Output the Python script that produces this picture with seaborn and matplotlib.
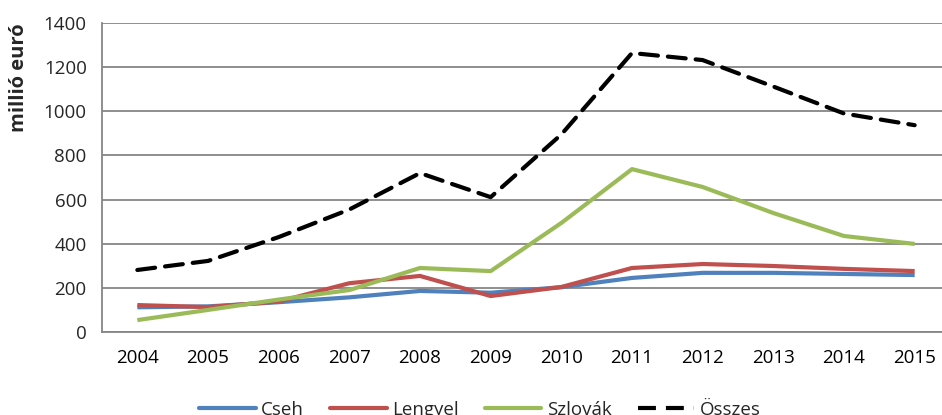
import matplotlib
matplotlib.use('Agg')
import pandas as pd
import matplotlib.pyplot as plt
import seaborn as sns
from matplotlib.lines import Line2D

# Adatok (millió euró)
years = ['2004', '2005', '2006', '2007', '2008', '2009',
         '2010', '2011', '2012', '2013', '2014', '2015']
cseh = [112, 116, 135, 157, 186, 178, 203, 245, 268, 268, 263, 258]
lengyel = [122, 113, 138, 221, 254, 163, 204, 290, 308, 299, 286, 276]
szlovak = [54, 100, 147, 190, 290, 276, 494, 738, 657, 539, 435, 399]
osszes = [281, 322, 430, 555, 720, 611, 895, 1264, 1232, 1112, 990, 937]

series = ['Cseh', 'Lengyel', 'Szlovák', 'Összes']
colors = ['#4F81BD', '#C0504D', '#9BBB59', '#000000']

df = pd.DataFrame({'ev': years * 4,
                   'ertek': cseh + lengyel + szlovak + osszes,
                   'orszag': sum([[s] * len(years) for s in series], [])})
df['pos'] = df['ev'].map({y: i for i, y in enumerate(years)})

sns.set_style('white')
plt.rcParams['font.family'] = ['Open Sans', 'DejaVu Sans']

fig = plt.figure(figsize=(9.42, 4.15), dpi=100)
ax = fig.add_axes([102 / 942, 83 / 415, 848 / 942, 309 / 415])

sns.lineplot(data=df, x='pos', y='ertek', hue='orszag', style='orszag',
             palette=dict(zip(series, colors)),
             dashes={'Cseh': '', 'Lengyel': '', 'Szlovák': '', 'Összes': (4.3, 2.4)},
             linewidth=3, legend=False, ax=ax)
for ln in ax.lines:
    ln.set_solid_capstyle('butt')
    ln.set_dash_capstyle('round')

ax.set_xlim(-0.5, len(years) - 0.5)
ax.set_ylim(0, 1400)
ax.set_yticks(range(0, 1401, 200))
ax.set_xticks(range(len(years)))
ax.set_xticklabels(years)
ax.set_xticks([i - 0.5 for i in range(len(years) + 1)], minor=True)
ax.tick_params(axis='x', which='major', length=0, pad=12, labelsize=13.5, colors='#000000')
ax.tick_params(axis='x', which='minor', length=5, width=1.2, color='#868686', direction='out')
ax.tick_params(axis='y', length=5, width=1.2, color='#868686', direction='out',
               pad=6, labelsize=13.5)
ax.grid(axis='y', color='#868686', linewidth=1.3)
ax.set_axisbelow(True)
for s in ['top', 'right']:
    ax.spines[s].set_visible(False)
for s in ['left', 'bottom']:
    ax.spines[s].set_color('#868686')
    ax.spines[s].set_linewidth(1.3)
ax.set_xlabel('')
ax.set_ylabel('')

fig.text(19 / 942, 1 - 78 / 415, 'millió euró', rotation=90, ha='center', va='center',
         fontsize=14.5, fontweight='bold')

handles = [Line2D([], [], color=c, linewidth=3,
                  linestyle=(0, (4.3, 2.4)) if s == 'Összes' else '-')
           for s, c in zip(series, colors)]
fig.legend(handles, series, loc='center', bbox_to_anchor=(480 / 942, 5 / 415), ncol=4,
           frameon=False, fontsize=13.5, handlelength=3.0, handletextpad=0.3,
           columnspacing=1.4)

fig.savefig('out.png', dpi=100)
